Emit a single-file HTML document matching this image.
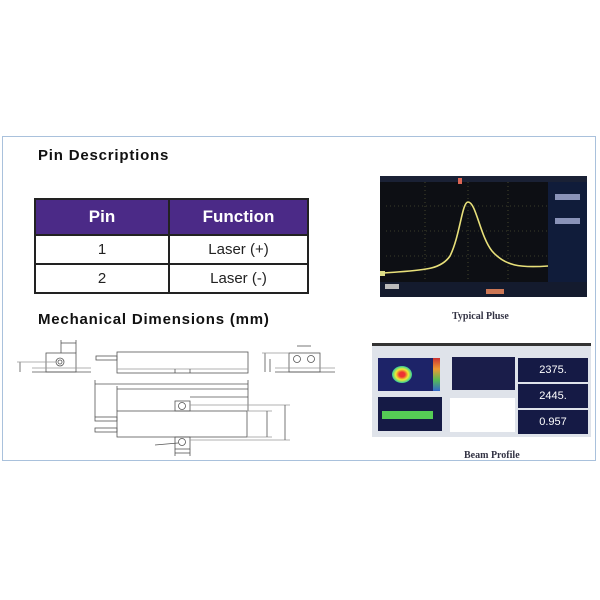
<!DOCTYPE html>
<html><head><meta charset="utf-8"><style>
body{margin:0;background:#fff;width:600px;height:600px;position:relative;overflow:hidden;font-family:"Liberation Sans",sans-serif}
.frame{position:absolute;left:2px;top:136px;width:594px;height:325px;border:1.5px solid #a9c1dc;box-sizing:border-box}
.h{position:absolute;font-weight:bold;font-size:15px;color:#111;letter-spacing:0.8px}
table{position:absolute;left:34px;top:198px;width:275px;border-collapse:collapse}
td{border:2px solid #222;text-align:center;font-size:15px;color:#222}
.cap{position:absolute;font-family:"Liberation Serif",serif;font-weight:bold;font-size:10px;color:#334}
</style></head><body>
<div class="frame"></div>
<div class="h" style="left:38px;top:147px">Pin Descriptions</div>
<table>
<tr style="height:36px;background:#4b2a87;color:#fff"><td style="width:130px;color:#fff;font-weight:bold;font-size:17px">Pin</td><td style="color:#fff;font-weight:bold;font-size:17px">Function</td></tr>
<tr style="height:29px"><td>1</td><td>Laser (+)</td></tr>
<tr style="height:29px"><td>2</td><td>Laser (-)</td></tr>
</table>
<div class="h" style="left:38px;top:311px">Mechanical Dimensions (mm)</div>
<svg style="position:absolute;left:0;top:0" width="600" height="600" fill="none" stroke="#555" stroke-width="0.8">
<rect x="46" y="353" width="30" height="19"/><line x1="32" y1="372" x2="91" y2="372"/><line x1="32" y1="368" x2="91" y2="368" stroke="#999"/>
<circle cx="60" cy="362" r="4"/><circle cx="60" cy="362" r="2"/>
<line x1="20" y1="362" x2="20" y2="372"/><line x1="17" y1="362" x2="56" y2="362" stroke="#999"/>
<line x1="61" y1="343" x2="76" y2="343"/><line x1="61" y1="340" x2="61" y2="353"/><line x1="76" y1="340" x2="76" y2="353"/>
<rect x="117" y="352" width="131" height="21"/><rect x="96" y="356" width="21" height="4"/>
<line x1="117" y1="369" x2="248" y2="369" stroke="#999"/><line x1="175" y1="369" x2="175" y2="373"/><line x1="190" y1="369" x2="190" y2="373"/>
<rect x="289" y="353" width="31" height="19"/><line x1="275" y1="372" x2="335" y2="372"/><line x1="275" y1="368" x2="335" y2="368" stroke="#999"/>
<circle cx="297" cy="359" r="3.5"/><circle cx="311" cy="359" r="3.5"/>
<line x1="265" y1="353" x2="265" y2="372"/><line x1="270" y1="359" x2="270" y2="372"/><line x1="262" y1="353" x2="289" y2="353" stroke="#999"/>
<line x1="297" y1="346" x2="311" y2="346"/>
<line x1="95" y1="384" x2="248" y2="384"/><line x1="117" y1="389" x2="248" y2="389"/><line x1="190" y1="397" x2="248" y2="397"/>
<line x1="95" y1="380" x2="95" y2="417"/><line x1="117" y1="386" x2="117" y2="411"/><line x1="248" y1="380" x2="248" y2="411"/>
<rect x="117" y="411" width="130" height="26"/>
<rect x="175" y="401" width="15" height="10"/><circle cx="182" cy="406" r="3.5"/>
<rect x="175" y="437" width="15" height="12"/><circle cx="182" cy="442" r="3.5"/>
<rect x="95" y="417" width="22" height="4"/><rect x="95" y="428" width="22" height="4"/>
<line x1="190" y1="405" x2="290" y2="405" stroke="#999"/><line x1="247" y1="411" x2="272" y2="411" stroke="#999"/><line x1="247" y1="437" x2="272" y2="437" stroke="#999"/><line x1="190" y1="440" x2="290" y2="440" stroke="#999"/>
<line x1="267" y1="411" x2="267" y2="437"/><line x1="285" y1="405" x2="285" y2="440"/>
<line x1="175" y1="453" x2="190" y2="453"/><line x1="175" y1="449" x2="175" y2="456"/><line x1="190" y1="449" x2="190" y2="456"/>
<line x1="155" y1="445" x2="178" y2="443"/>
</svg>
<svg style="position:absolute;left:380px;top:176px" width="207" height="121">
<rect width="207" height="121" fill="#0d0f14"/>
<rect x="168" y="0" width="39" height="121" fill="#101c3a"/>
<rect x="0" y="0" width="207" height="6" fill="#1a2135"/>
<rect x="0" y="106" width="207" height="15" fill="#141b2e"/>
<g stroke="#6a6a40" stroke-width="0.6" stroke-dasharray="1 3">
<line x1="6" y1="30" x2="168" y2="30"/><line x1="6" y1="55" x2="168" y2="55"/><line x1="6" y1="80" x2="168" y2="80"/>
<line x1="45" y1="6" x2="45" y2="105"/><line x1="88" y1="6" x2="88" y2="105"/><line x1="128" y1="6" x2="128" y2="105"/>
</g>
<path d="M4 97 C40 94 60 95 70 80 C80 60 82 26 88 26 C96 26 100 60 112 75 C125 90 140 92 168 90" stroke="#e8e07a" stroke-width="1.6" fill="none"/>
<rect x="78" y="2" width="4" height="6" fill="#d65"/><rect x="0" y="95" width="5" height="5" fill="#dd8"/>
<rect x="5" y="108" width="14" height="5" fill="#bbb"/><rect x="106" y="113" width="18" height="5" fill="#c75"/>
<rect x="175" y="18" width="25" height="6" fill="#8a93b8"/><rect x="175" y="42" width="25" height="6" fill="#8a93b8"/>
</svg>
<div class="cap" style="left:452px;top:311px">Typical Pluse</div>
<div style="position:absolute;left:372px;top:343px;width:219px;height:94px;background:#dfe3ea">
<div style="position:absolute;left:0;top:0;width:219px;height:3px;background:#333"></div>
<div style="position:absolute;left:6px;top:15px;width:55px;height:33px;background:#1d2368"><div style="position:absolute;left:14px;top:8px;width:20px;height:17px;border-radius:50%;background:radial-gradient(#e33 20%,#ee3 45%,#3c9 70%,#26a 100%)"></div></div>
<div style="position:absolute;left:61px;top:15px;width:7px;height:33px;background:linear-gradient(#c33,#e93,#5b5,#36c)"></div>
<div style="position:absolute;left:80px;top:14px;width:63px;height:33px;background:#1a1d4a"></div>
<div style="position:absolute;left:146px;top:15px;width:70px;height:24px;background:#151a45;color:#fff;font-size:11px;text-align:center;line-height:24px">2375.</div>
<div style="position:absolute;left:146px;top:41px;width:70px;height:24px;background:#151a45;color:#fff;font-size:11px;text-align:center;line-height:24px">2445.</div>
<div style="position:absolute;left:146px;top:67px;width:70px;height:24px;background:#151a45;color:#fff;font-size:11px;text-align:center;line-height:24px">0.957</div>
<div style="position:absolute;left:6px;top:54px;width:64px;height:34px;background:#151a45"><div style="position:absolute;left:4px;top:14px;width:51px;height:8px;background:#5c5"></div></div>
<div style="position:absolute;left:78px;top:55px;width:65px;height:34px;background:#fff"></div>
</div>
<div class="cap" style="left:464px;top:450px">Beam Profile</div>
</body></html>
